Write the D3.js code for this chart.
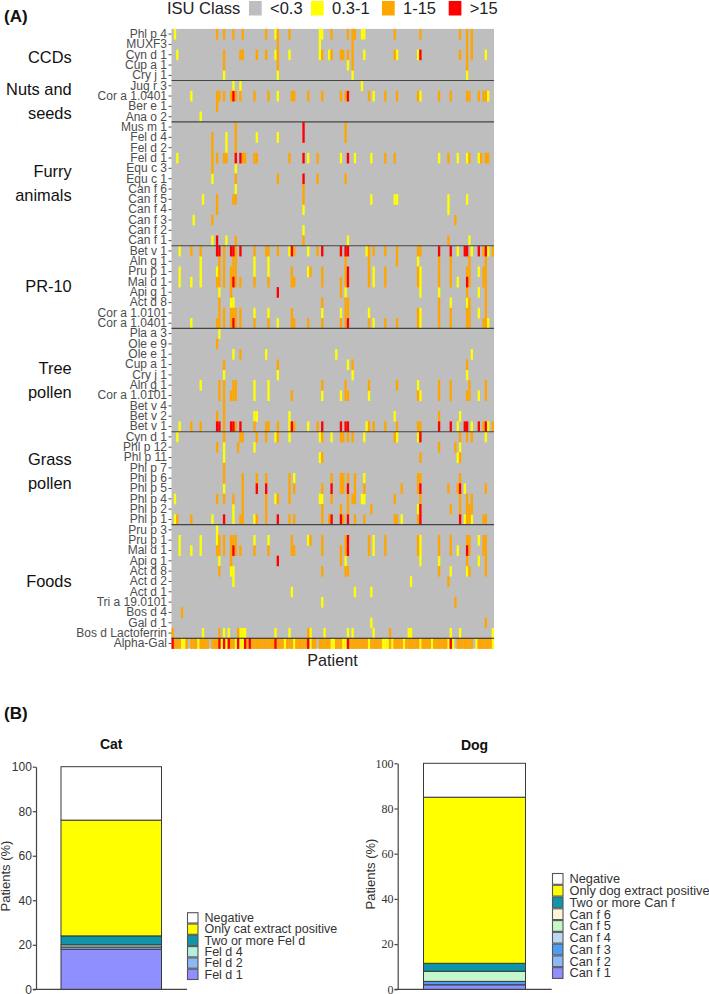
<!DOCTYPE html>
<html><head><meta charset="utf-8">
<script src="https://cdn.jsdelivr.net/npm/d3@7"></script>
<style>html,body{margin:0;padding:0;background:#fff}svg{display:block}text{font-family:"Liberation Sans",Arial,sans-serif}</style>
</head><body><svg id="c" width="709" height="994"></svg>
<script>
const rowLabels=["Phl p 4","MUXF3","Cyn d 1","Cup a 1","Cry j 1","Jug r 3","Cor a 1.0401","Ber e 1","Ana o 2","Mus m 1","Fel d 4","Fel d 2","Fel d 1","Equ c 3","Equ c 1","Can f 6","Can f 5","Can f 4","Can f 3","Can f 2","Can f 1","Bet v 1","Aln g 1","Pru p 1","Mal d 1","Api g 1","Act d 8","Cor a 1.0101","Cor a 1.0401","Pla a 3","Ole e 9","Ole e 1","Cup a 1","Cry j 1","Aln g 1","Cor a 1.0101","Bet v 4","Bet v 2","Bet v 1","Cyn d 1","Phl p 12","Phl p 11","Phl p 7","Phl p 6","Phl p 5","Phl p 4","Phl p 2","Phl p 1","Pru p 3","Pru p 1","Mal d 1","Api g 1","Act d 8","Act d 2","Act d 1","Tri a 19.0101","Bos d 4","Gal d 1","Bos d Lactoferrin","Alpha-Gal"];
const patientCount=138;
const classNames=["<0.3","0.3-1","1-15",">15"];
const classColors=["#bebebe","#ffff00","#ffa500","#ff0000"];
const yellowCells=[
[1,44,63,64,81,82],[63],[2,44,50,63,67,82,96,105,134],[75],[22,45,77,126],
[26,29,81],[8,45,86,106,135],[],[12],
[],[23,36,45],[23],[2,58,72,78,85,114,122,126,131],[27],[17],[27],[13,85,95,96,118,126],[56,118],[9],[56],[17,23,75,127],
[3,50,58,83,122,128,135],[12,35,41,105],[3,12,19,35,41,58,86,106,131],[3,8,12,86,106,122],[20,74,106,114,131],[25,26,119,126],[35,41,64,72,84,106,131],[8,45,86,106,135],
[20],[],[26,40,70,128],[75],[22,45,77,126],[12,35,41,105],[35,41,64,72,84,106,131],[],[35,36,50,95,123],[3,50,58,83,122,128,135],
[2,44,50,63,68,82,96,105,134],[22,35,123],[22,63,122],[],[52,82],[22,125],[1,44,63,64,81,82],[26,105],[1,17,26,35,98,125,128],
[19],[3,12,19,35,41,58,86,106,131],[3,8,12,86,106,122],[20,74,106,114,131],[25,26,119,126],[26,102],[51,78,85],[64],[],[85],[13,22,24,29,30,31,44,50,59,65,75,77,86,101,102,119,123,137],
[4,5,11,21,23,27,29,30,48,52,59,68,69,73,74,84,90,91,92,94,99,106,111,118,120,130,137]];
const orangeCells=[
[19,22,26,30,40,45,50,68,75,77,78,95,106,123,126,128],[45,77,126,128],[22,29,30,36,40,45,64,68,72,73,75,77,95,123,126,128],[22,45,77,126],[],
[],[19,20,22,25,27,29,35,41,51,52,58,64,72,74,84,91,96,105,114,119,126,127,131,133,134],[19],[],
[27,74],[17,27,74],[17,27],[17,19,22,23,30,31,35,36,50,62,91,95,118,127,132,134,135],[17],[27,45,62,74],[56],[19,26,27,56],[19],[17,121],[],[27,56,118],
[8,12,22,27,35,40,41,45,52,62,84,86,91,96,105,106,133,137],[20,22,26,27,74,84,96,114,119,127,134],[20,22,25,26,27,51,59,64,74,84,91,105,114,119,126,127,133,134],[19,20,22,25,27,29,35,41,51,52,64,72,74,84,91,105,114,119,127,133,134],[25,72,126,134],[20,64,74,75,114,127,134],[20,22,25,26,27,29,51,74,75,105,114,119,126,127,134],[19,20,22,25,27,29,35,41,51,52,58,64,72,74,84,91,96,105,114,119,126,127,133,134],
[],[19],[29],[22,45,77,126],[],[20,22,26,27,64,74,84,96,114,119,127,134],[20,22,25,26,27,51,74,75,105,114,119,126,127,134],[22],[19,22,114],[8,12,22,27,35,40,41,45,52,62,84,86,91,96,105,106,133,137],
[22,29,30,36,40,45,64,72,73,75,77,95,123,126,128],[19,28,114,121],[64,106,123],[22],[22,30,36,40,50,68,72,73,75,78,105,106,123],[30,50,52,64,72,73,78,82,98,105,118,122,134],[19,22,26,30,40,45,50,68,75,77,78,95,106,123,126,128],[30,40,64,72,75,85,119,123,126,127,128],[2,8,29,30,36,40,50,52,64,67,73,78,82,95,96,105,126,127,133,134],
[],[20,22,25,26,27,51,59,64,74,84,91,105,114,119,126,127,133,134],[19,20,22,25,27,29,35,41,51,52,64,72,74,84,91,105,114,119,127,133,134],[25,72,126,134],[20,64,74,75,114,127,134],[118],[],[121],[4],[134],[0,20,28,58,93],
[1,2,3,6,8,9,10,12,13,14,15,17,18,19,25,26,32,34,35,36,37,38,39,40,41,42,43,45,46,47,49,50,51,53,54,55,56,57,60,61,63,64,65,66,67,70,71,72,76,77,78,79,80,81,82,83,85,86,87,88,89,93,95,96,97,98,100,101,102,103,104,105,107,108,109,110,112,113,114,115,116,117,122,123,124,125,126,127,128,131,132,133,134,135,136]];
const redCells=[
[],[],[106],[],[],
[],[26,75],[],[],
[56],[56],[],[27,29,56,75],[],[56],[],[],[],[],[],[19],
[19,20,25,26,29,51,64,72,74,75,114,119,125,126,131,134],[],[75],[26,75,126],[45],[],[],[26,75],
[],[],[],[],[],[],[],[],[],[19,20,25,26,29,51,64,72,74,75,114,119,125,126,131,134],
[106],[],[],[],[],[36,40,68,75,106,123],[],[106],[22,45,68,72,75,106,123],
[],[75],[26,75,126],[45],[],[],[],[],[],[],[],
[0,20,22,24,28,31,33,44,58,75,119]];
const groupSizes=[5,4,12,8,10,9,12];
const groupNames=[["CCDs"],["Nuts and","seeds"],["Furry","animals"],["PR-10"],["Tree","pollen"],["Grass","pollen"],["Foods"]];
const groupNameY=[58,90,172,287,369,460,582];

const catSeries=["Fel d 1","Fel d 2","Fel d 4","Two or more Fel d","Only cat extract positive","Negative"];
const catValues=[18,1,1,4,52,24];
const catColors=["#8f8fff","#8cb8f5","#b3f0dc","#0f94a8","#ffff00","#ffffff"];
const dogSeries=["Can f 1","Can f 2","Can f 3","Can f 4","Can f 5","Can f 6","Two or more Can f","Only dog extract positive","Negative"];
const dogValues=[2,0,1.5,0,4.5,0,3.5,73.5,15];
const dogColors=["#8f8fff","#8cb8f5","#4f9cf5","#bdd8f5","#c4f7c9","#fdf7d8","#0f94a8","#ffff00","#ffffff"];
const barTicks=[0,20,40,60,80,100];

const svg=d3.select("#c");
const T=(x,y,s,size,o={})=>svg.append("text").attr("x",x).attr("y",y).attr("font-size",size)
  .attr("fill",o.fill||"#111").attr("font-weight",o.w||"normal").attr("text-anchor",o.a||"start").attr("transform",o.t||null).text(s);

// ---- panel labels
T(4,21.5,"(A)",17,{w:"bold"});
T(4,719,"(B)",17,{w:"bold"});

// ---- class legend
T(167,14,"ISU Class",16.5,{fill:"#222"});
const legendOffsets={"<0.3":0,"0.3-1":62,"1-15":133,">15":199.7};
classNames.forEach((n,i)=>{
  const x=249+legendOffsets[n];
  svg.append("rect").attr("x",x).attr("y",1).attr("width",12.7).attr("height",14.5).attr("fill",classColors[i]);
  T(x+21,14,n,16.5,{fill:"#222"});
});

// ---- heatmap
const x=d3.scaleBand().domain(d3.range(patientCount)).range([171.5,494]);
const y=d3.scaleBand().domain(d3.range(rowLabels.length)).range([28.9,648.6]);
svg.append("rect").attr("x",171.5).attr("y",28.9).attr("width",322.5).attr("height",619.7).attr("fill",classColors[0]);
const cells=[];
[[yellowCells,1],[orangeCells,2],[redCells,3]].forEach(([tbl,c])=>tbl.forEach((list,r)=>list.forEach(p=>cells.push({p,r,c}))));
svg.append("g").selectAll("rect").data(cells).join("rect")
  .attr("x",d=>x(d.p)).attr("y",d=>y(d.r)).attr("width",x.bandwidth()).attr("height",y.bandwidth()+.3)
  .attr("fill",d=>classColors[d.c]);
const yAxis=d3.axisLeft(y).tickFormat(i=>rowLabels[i]).tickSize(3).tickPadding(1.5);
const gy=svg.append("g").attr("transform","translate(171.5,0)").call(yAxis);
gy.select(".domain").remove();
gy.selectAll("line").attr("stroke","#555");
gy.selectAll("text").attr("fill","#4d4d4d").attr("font-size",12).style("font-family","'Liberation Sans'");
// separators
let acc=0;
groupSizes.forEach(n=>{
  acc+=n;
  if(acc<rowLabels.length) svg.append("line").attr("x1",171.5).attr("x2",494).attr("y1",y(acc)).attr("y2",y(acc)).attr("stroke","#444").attr("stroke-width",1.1);
});
svg.append("line").attr("x1",171.5).attr("x2",494).attr("y1",y(59)).attr("y2",y(59)).attr("stroke","#222").attr("stroke-width",1.1);
groupNames.forEach((lines,i)=>lines.forEach((s,j)=>T(71.7,groupNameY[i]+5+j*24,s,16.4,{a:"end",fill:"#111"})));
T(332.5,666,"Patient",16.2,{a:"middle",fill:"#222"});

// ---- stacked bars
function stacked(o){
  const sy=d3.scaleLinear().domain([0,100]).range([o.y0,o.y100]);
  const ax=d3.axisLeft(sy).tickValues(barTicks).tickSize(3.2).tickSizeOuter(0).tickPadding(1);
  const g=svg.append("g").attr("transform",`translate(${o.axisX},0)`).call(ax);
  g.select(".domain").attr("stroke","#444").attr("stroke-width",1.2);
  g.selectAll("line").attr("stroke","#444").attr("stroke-width",1.2);
  g.selectAll("text").attr("fill","#333").attr("font-size",12).style("font-family",o.tickFont);
  svg.append("line").attr("x1",o.axisX-3.2).attr("x2",o.axisEnd).attr("y1",o.y0).attr("y2",o.y0).attr("stroke","#444").attr("stroke-width",1.2);
  const stack=d3.cumsum(o.values);
  const rows=o.values.map((v,i)=>({v,top:stack[i],bot:stack[i]-v,c:o.colors[i]})).filter(d=>d.v>0);
  svg.append("g").selectAll("rect").data(rows).join("rect")
    .attr("x",o.barX).attr("width",o.barW).attr("y",d=>sy(d.top)).attr("height",d=>sy(d.bot)-sy(d.top))
    .attr("fill",d=>d.c).attr("stroke","#3a3a3a").attr("stroke-width",1);
  T(o.barX+o.barW/2,o.titleY,o.title,14,{w:"bold",a:"middle"});
  T(0,0,"Patients (%)",13,{a:"middle",fill:"#333",t:`translate(${o.labelX},${o.labelY}) rotate(-90)`});
  const n=o.series.length;
  o.series.slice().reverse().forEach((s,i)=>{
    const ly=o.legY+i*o.legStep;
    svg.append("rect").attr("x",o.legX).attr("y",ly).attr("width",10.5).attr("height",o.legStep-1).attr("fill",o.colors[n-1-i]).attr("stroke","#555").attr("stroke-width",1.1);
    T(o.legX+17,ly+o.legStep-2,s,o.legFont,{fill:"#333"});
  });
}
stacked({title:"Cat",titleY:749,values:catValues,colors:catColors,series:catSeries,axisX:36,axisEnd:187,y0:989.3,y100:766.7,barX:61,barW:100.5,labelX:10,labelY:876,tickFont:"'Liberation Sans'",legX:187.5,legY:912.7,legStep:11.3,legFont:12.5});
stacked({title:"Dog",titleY:750,values:dogValues,colors:dogColors,series:dogSeries,axisX:397.7,axisEnd:551.7,y0:989.3,y100:763.3,barX:423.5,barW:102,labelX:375,labelY:874,tickFont:"'Liberation Serif'",legX:552.5,legY:873.5,legStep:11.77,legFont:12.8});
</script></body></html>
